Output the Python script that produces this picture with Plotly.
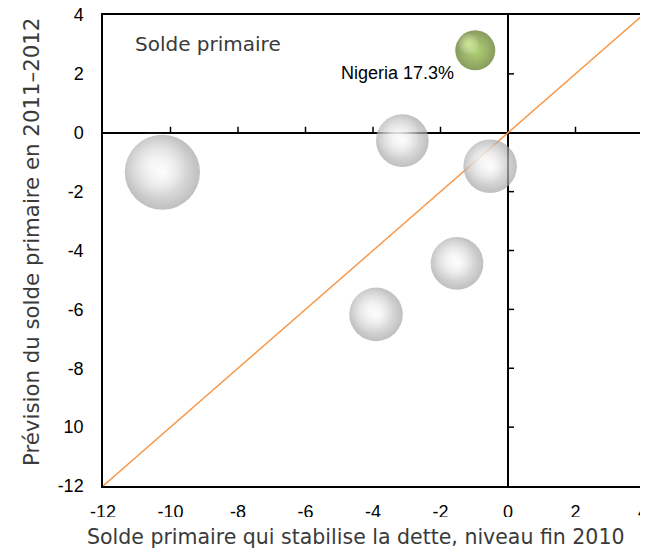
import plotly.graph_objects as go

# ---- data ----
countries_x = [-10.24, -3.13, -0.53, -1.51, -3.91]
countries_y = [-1.34, -0.27, -1.14, -4.44, -6.17]
countries_w = [61, 30, 31, 30, 31]
nigeria_x = [-0.97]
nigeria_y = [2.80]
nigeria_w = [17.3]
nigeria_label = "Nigeria 17.3%"
diag_x = [-12, 4]
diag_y = [-12, 4]
x_tickvals = [-12, -10, -8, -6, -4, -2, 0, 2, 4]
x_ticktext = ["-12", "-10", "-8", "-6", "-4", "-2", "0", "2", "4"]
y_tickvals = [-12, -10, -8, -6, -4, -2, 0, 2, 4]
y_ticktext = ["-12", "10", "-8", "-6", "-4", "-2", "0", "2", "4"]
x_title = "Solde primaire qui stabilise la dette, niveau fin 2010"
y_title = "Prévision du solde primaire en 2011–2012"
panel_title = "Solde primaire"

# ---- layout geometry (page pixels; page body has an 8px margin) ----
OFF = 8
W, H = 648, 550
P_L, P_R, P_T, P_B = 103, 643, 15, 486   # plot area on the page
ml = P_L - OFF
mt = P_T - OFF
mr = W - (P_R - OFF)
mb = H - (P_B - OFF)
plot_w = P_R - P_L
plot_h = P_B - P_T
xr = [-12, 4]
yr = [-12, 4]
px_per_x = plot_w / (xr[1] - xr[0])
px_per_y = plot_h / (yr[1] - yr[0])
sizeref = 2 * 17.3 / 1600.0

def diam(w):
    return (2 * w / sizeref) ** 0.5

def px(xp):   # page x -> paper
    return (xp - P_L) / plot_w

def py(yp):   # page y -> paper
    return (P_B - yp) / plot_h

fig = go.Figure()

# reference diagonal
fig.add_trace(go.Scatter(x=diag_x, y=diag_y, mode="lines",
                         line=dict(color="#F79A4C", width=1.5),
                         hoverinfo="skip", showlegend=False))

def add_spheres(xs, ys, ws, center, edge, hi, hi_scale, hi_off):
    # base sphere (gradient.color is the centre colour)
    fig.add_trace(go.Scatter(
        x=xs, y=ys, mode="markers", showlegend=False, hoverinfo="skip",
        marker=dict(size=ws, sizemode="area", sizeref=sizeref,
                    color=edge, line=dict(width=0),
                    gradient=dict(type="radial", color=center))))
    # highlight offset up-left
    hx = [x - hi_off * diam(w) / px_per_x for x, w in zip(xs, ws)]
    hy = [y + hi_off * diam(w) / px_per_y for y, w in zip(ys, ws)]
    hw = [w * hi_scale for w in ws]
    fig.add_trace(go.Scatter(
        x=hx, y=hy, mode="markers", showlegend=False, hoverinfo="skip",
        marker=dict(size=hw, sizemode="area", sizeref=sizeref,
                    color="rgba(255,255,255,0)", line=dict(width=0),
                    gradient=dict(type="radial", color=hi))))

add_spheres(countries_x, countries_y, countries_w, "#fafafa", "#a4a4a4",
            "rgba(255,255,255,1)", 0.78, 0.11)
add_spheres(nigeria_x, nigeria_y, nigeria_w, "#93c23c", "#557219",
            "rgba(225,250,140,1)", 0.32, 0.17)

font_tick = dict(family="Liberation Sans, Arial", size=18, color="black")

fig.update_layout(
    width=W, height=H,
    margin=dict(l=ml, r=mr, t=mt, b=mb, pad=0, autoexpand=False),
    paper_bgcolor="white", plot_bgcolor="white",
    showlegend=False,
    xaxis=dict(range=xr, tickvals=x_tickvals, ticktext=x_ticktext,
               showgrid=False, zeroline=True, zerolinecolor="black", zerolinewidth=1.5,
               showline=True, mirror=True, linecolor="black", linewidth=1.5,
               ticks="", tickfont=font_tick, ticklabelstandoff=9,
               ticklabeloverflow="allow", automargin=False, fixedrange=True),
    yaxis=dict(range=yr, tickvals=y_tickvals, ticktext=y_ticktext,
               showgrid=False, zeroline=True, zerolinecolor="black", zerolinewidth=1.5,
               showline=True, mirror=True, linecolor="black", linewidth=1.5,
               ticks="", tickfont=font_tick, ticklabelstandoff=14,
               ticklabeloverflow="allow", automargin=False, fixedrange=True),
)

# small ticks on the zero lines
shapes = []
for v in x_tickvals:
    if v in (xr[0], 0, xr[1]):
        continue
    shapes.append(dict(type="line", xref="x", yref="y", ysizemode="pixel", yanchor=0,
                       x0=v, x1=v, y0=0, y1=6, line=dict(color="black", width=1.5)))
for v in y_tickvals:
    if v in (yr[0], 0, yr[1]):
        continue
    shapes.append(dict(type="line", xref="x", yref="y", xsizemode="pixel", xanchor=0,
                       y0=v, y1=v, x0=0, x1=6, line=dict(color="black", width=1.5)))

# white band clipping the bottom of the x tick labels
shapes.append(dict(type="rect", xref="paper", yref="paper", layer="above",
                   x0=-0.3, x1=1.1, y0=py(517), y1=py(600),
                   fillcolor="white", line=dict(width=0)))
# left frame line
shapes.append(dict(type="line", xref="paper", yref="paper",
                   x0=px(2), x1=px(2), y0=py(486), y1=py(21),
                   line=dict(color="black", width=1.5)))
fig.update_layout(shapes=shapes)

title_font = dict(family="DejaVu Sans", size=20.5, color="#3a3a3a")
fig.add_annotation(text=x_title, xref="paper", yref="paper",
                   x=px(355), y=py(537),
                   xanchor="center", yanchor="middle", showarrow=False, font=title_font)
fig.add_annotation(text=y_title, xref="paper", yref="paper", textangle=-90,
                   x=px(31), y=py(242),
                   xanchor="center", yanchor="middle", showarrow=False,
                   font=dict(family="DejaVu Sans", size=21.3, color="#3a3a3a"))
fig.add_annotation(text=panel_title, xref="paper", yref="paper",
                   x=px(133), y=py(44),
                   xanchor="left", yanchor="middle", showarrow=False,
                   font=dict(family="DejaVu Sans", size=20, color="#3a3a3a"))
fig.add_annotation(text=nigeria_label, x=nigeria_x[0], y=nigeria_y[0],
                   xanchor="right", yanchor="middle", xshift=-19, yshift=-23,
                   showarrow=False, font=dict(family="Liberation Sans, Arial",
                                              size=18, color="black"))

fig.write_html("out.html")
